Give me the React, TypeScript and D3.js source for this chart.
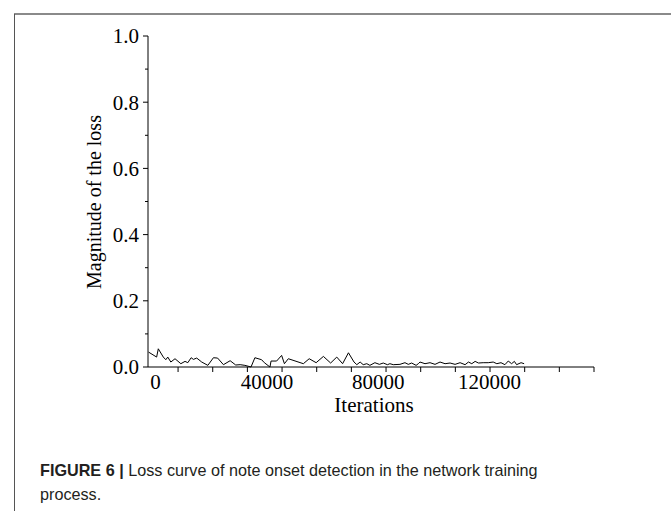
import { useRef, useEffect } from "react";
import * as d3 from "d3";

// iterations (x) and loss magnitude (y)
const iterations = [
  -2500, 400, 1000, 2800, 3700, 4400, 5500, 7000, 9100, 10600, 11600, 12800,
  13600, 14800, 16600, 18800, 20800, 22300, 24400, 26800, 28800, 30400, 32100,
  34300, 35700, 38100, 39100, 41100, 41500, 43500, 45300, 46300, 47700, 53100,
  55200, 57700, 60300, 62900, 65100, 67200, 69300, 71300, 72300, 73500, 74600,
  75900, 77000, 78800, 80400, 81800, 83300, 84200, 85400, 87800, 89600, 90800,
  92000, 93600, 94400, 95000, 96800, 98600, 100400, 102200, 104000, 105800,
  107600, 109400, 111200, 112400, 113600, 114800, 116000, 117700, 119500,
  121300, 122600, 124100, 125500, 126700, 127900, 128900, 129700, 131300,
  132400,
];
const loss = [
  0.045, 0.03, 0.055, 0.03, 0.022, 0.03, 0.015, 0.025, 0.01, 0.017, 0.013,
  0.028, 0.023, 0.027, 0.015, 0.005, 0.028, 0.027, 0.007, 0.019, 0.006, 0.007,
  0.005, 0.0, 0.028, 0.022, 0.013, 0.0, 0.018, 0.018, 0.035, 0.01, 0.025, 0.01,
  0.025, 0.013, 0.032, 0.012, 0.03, 0.01, 0.043, 0.015, 0.007, 0.015, 0.007,
  0.01, 0.005, 0.013, 0.008, 0.012, 0.007, 0.01, 0.007, 0.008, 0.013, 0.008,
  0.012, 0.005, 0.01, 0.015, 0.01, 0.013, 0.008, 0.015, 0.01, 0.012, 0.008,
  0.013, 0.007, 0.015, 0.01, 0.017, 0.012, 0.013, 0.013, 0.015, 0.01, 0.013,
  0.007, 0.018, 0.01, 0.017, 0.007, 0.013, 0.01,
];

const xLabels = [0, 40000, 80000, 120000];
const yMajor = [0, 0.2, 0.4, 0.6, 0.8, 1.0];
const yMinor = [0.1, 0.3, 0.5, 0.7, 0.9];
const xTickStep = 12450; // minor tick spacing on the x axis

const W = 671;
const H = 511;

const App = () => {
  const svgRef = useRef<SVGSVGElement | null>(null);

  useEffect(() => {
    if (!svgRef.current) return;
    const svg = d3.select(svgRef.current);
    svg.selectAll("*").remove();

    const serif = "'Liberation Serif', 'Times New Roman', serif";

    // outer frame
    svg.append("line")
      .attr("x1", 14).attr("y1", 14).attr("x2", W).attr("y2", 14)
      .attr("stroke", "#8a8a8a").attr("stroke-width", 2);
    svg.append("line")
      .attr("x1", 14.5).attr("y1", 14).attr("x2", 14.5).attr("y2", H)
      .attr("stroke", "#555").attr("stroke-width", 1);

    const x = d3.scaleLinear().domain([-2700, 157500]).range([148, 594]);
    const y = d3.scaleLinear().domain([0, 1]).range([367, 36]);

    const g = svg.append("g");

    // y axis
    g.append("line")
      .attr("x1", x(-2700)).attr("x2", x(-2700))
      .attr("y1", y(0)).attr("y2", y(1))
      .attr("stroke", "#000");
    g.selectAll("line.ymaj").data(yMajor).enter().append("line")
      .attr("class", "ymaj")
      .attr("x1", x(-2700) - 5).attr("x2", x(-2700))
      .attr("y1", (d) => y(d)).attr("y2", (d) => y(d))
      .attr("stroke", "#000");
    g.selectAll("line.ymin").data(yMinor).enter().append("line")
      .attr("class", "ymin")
      .attr("x1", x(-2700) - 3).attr("x2", x(-2700))
      .attr("y1", (d) => y(d)).attr("y2", (d) => y(d))
      .attr("stroke", "#000");
    g.selectAll("text.ylab").data(yMajor).enter().append("text")
      .attr("class", "ylab")
      .attr("x", 139)
      .attr("y", (d) => y(d))
      .attr("dy", "0.35em")
      .attr("text-anchor", "end")
      .style("font-family", serif)
      .style("font-size", "21px")
      .text((d) => d.toFixed(1));

    // x axis
    g.append("line")
      .attr("x1", x(-2700)).attr("x2", x(157500))
      .attr("y1", y(0)).attr("y2", y(0))
      .attr("stroke", "#000");
    const xTicks = d3.range(157500, 0, -xTickStep);
    g.selectAll("line.xt").data(xTicks).enter().append("line")
      .attr("class", "xt")
      .attr("x1", (d) => x(d)).attr("x2", (d) => x(d))
      .attr("y1", y(0)).attr("y2", y(0) + 5)
      .attr("stroke", "#000");
    g.selectAll("text.xlab").data(xLabels).enter().append("text")
      .attr("class", "xlab")
      .attr("x", (d) => x(d))
      .attr("y", 389)
      .attr("text-anchor", "middle")
      .style("font-family", serif)
      .style("font-size", "21px")
      .text((d) => String(d));

    // axis titles
    g.append("text")
      .attr("transform", "translate(101,202) rotate(-90)")
      .attr("text-anchor", "middle")
      .style("font-family", serif)
      .style("font-size", "20px")
      .text("Magnitude of the loss");
    g.append("text")
      .attr("x", 374)
      .attr("y", 412)
      .attr("text-anchor", "middle")
      .style("font-family", serif)
      .style("font-size", "21px")
      .text("Iterations");

    // loss curve
    const pts: [number, number][] = iterations.map((it, i) => [it, loss[i]]);
    const line = d3.line<[number, number]>()
      .x((d) => x(d[0]))
      .y((d) => y(d[1]));
    g.append("path")
      .datum(pts)
      .attr("d", line)
      .attr("fill", "none")
      .attr("stroke", "#000")
      .attr("stroke-width", 1);

    // caption
    const cap = svg.append("text")
      .attr("x", 40).attr("y", 476)
      .style("font-family", "'Liberation Sans', Arial, sans-serif")
      .style("font-size", "16.2px")
      .attr("fill", "#231f20");
    cap.append("tspan").style("font-weight", "bold").text("FIGURE 6 | ");
    cap.append("tspan").text("Loss curve of note onset detection in the network training");
    svg.append("text")
      .attr("x", 40).attr("y", 500)
      .style("font-family", "'Liberation Sans', Arial, sans-serif")
      .style("font-size", "16.2px")
      .attr("fill", "#231f20")
      .text("process.");
  }, []);

  return (
    <svg
      ref={svgRef}
      width={W}
      height={H}
      style={{ position: "absolute", left: 0, top: 0, background: "#fff" }}
    ></svg>
  );
};

export default App;
